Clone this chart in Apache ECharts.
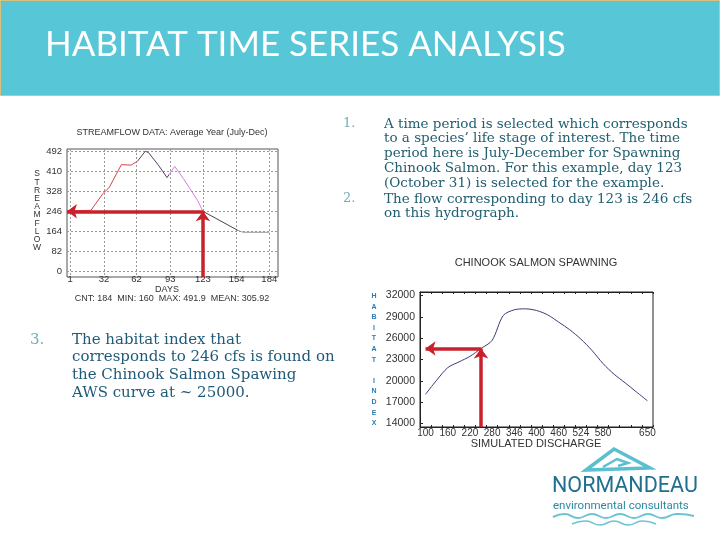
<!DOCTYPE html>
<html><head><meta charset="utf-8">
<script src="https://cdn.jsdelivr.net/npm/echarts@6/dist/echarts.min.js"></script>
<style>html,body{margin:0;padding:0;background:#fff}#c{width:720px;height:540px}</style>
</head><body><div id="c"></div>
<script>
// Streamflow hydrograph (left chart)
const flowDays   = [1, 20, 31, 37, 48, 57, 63, 70, 73, 82, 90, 97, 105, 118, 123, 155, 160, 184];
const flowValues = [248, 250, 318, 345, 437, 435, 452, 492, 486, 435, 384, 430, 380, 291, 246, 168, 160, 160];
const dayTicks   = [1, 32, 62, 93, 123, 154, 184];
const flowTicks  = [0, 82, 164, 246, 328, 410, 492];
const selectedDay = 123;
const selectedFlow = 246;

// Habitat curve (right chart)
const dischargeCategories = ['100','','160','','220','','280','','346','','400','','460','','524','','580','','','','650'];
const habitatValues = [18110, 20080, 21850, 22650, 23440, 24550, 25690, 29190, 29990, 30130, 29900, 29290, 28260, 27180, 25870, 24280, 22420, 20920, 19700, 18440, 17180];
const habitatTicks = [14000, 17000, 20000, 23000, 26000, 29000, 32000];
const selectedIndex = 5;

const chart = echarts.init(document.getElementById('c'), null, {renderer: 'canvas'});
const AX = '#333';
const ARROW = '#c9202b';
const sans = 'Liberation Sans, Arial, sans-serif';
const serif = 'DejaVu Serif, serif';
const xMin0 = -2, xMax0 = 192, yMin0 = -23, yMax0 = 501;
const yMin1 = 13500, yMax1 = 32500;
const selHabitat = habitatValues[selectedIndex];

const arrowLine = {color: ARROW, width: 3.5, type: 'solid'};

function txt(text, x, y, size, color, opts) {
  return Object.assign({type: 'text', silent: true, style: Object.assign({
    text: text, x: x, y: y, font: size + 'px ' + sans, fill: color,
    textAlign: 'left', textVerticalAlign: 'middle'
  }, opts || {})});
}

const graphics = [
  {type: 'rect', shape: {x: 0.5, y: 0.5, width: 719, height: 95}, style: {fill: '#57c6d6', stroke: '#d6c27c', lineWidth: 1}, silent: true},
  txt('HABITAT TIME SERIES ANALYSIS', 45, 45, 35, '#ffffff', {font: '35px Lato, sans-serif'}),
  // paragraph 1 & 2
  txt('1.', 343, 124, 13, '#74aebb', {font: '13px ' + serif}),
  txt('A time period is selected which corresponds\nto a species\u2019 life stage of interest. The time\nperiod here is July-December for Spawning\nChinook Salmon. For this example, day 123\n(October 31) is selected for the example.',
      384, 116.6, 13.5, '#215f70', {font: '13.5px ' + serif, textVerticalAlign: 'top', lineHeight: 14.8}),
  txt('2.', 343, 199, 13, '#74aebb', {font: '13px ' + serif}),
  txt('The flow corresponding to day 123 is 246 cfs\non this hydrograph.',
      384, 191.6, 13.5, '#215f70', {font: '13.5px ' + serif, textVerticalAlign: 'top', lineHeight: 14.8}),
  // paragraph 3
  txt('3.', 30, 340, 15, '#74aebb', {font: '15px ' + serif}),
  txt('The habitat index that\ncorresponds to 246 cfs is found on\nthe Chinook Salmon Spawing\nAWS curve at ~ 25000.',
      72, 331.2, 15, '#1f5a78', {font: '15px ' + serif, textVerticalAlign: 'top', lineHeight: 17.6}),
  // left chart texts
  txt('STREAMFLOW DATA: Average Year (July-Dec)', 172, 133, 9, AX, {textAlign: 'center'}),
  txt('S\nT\nR\nE\nA\nM\nF\nL\nO\nW', 37, 170, 8.5, AX, {textAlign: 'center', textVerticalAlign: 'top', lineHeight: 8.2, font: '8.5px ' + sans}),
  txt('DAYS', 167, 289.5, 9, AX, {textAlign: 'center'}),
  txt('CNT: 184  MIN: 160  MAX: 491.9  MEAN: 305.92', 172, 298.5, 9, AX, {textAlign: 'center'}),
  // right chart texts
  txt('CHINOOK SALMON SPAWNING', 536, 263, 11, AX, {textAlign: 'center'}),
  txt('H\nA\nB\nI\nT\nA\nT\n\nI\nN\nD\nE\nX', 374, 290.7, 7, '#2a7db4', {textAlign: 'center', textVerticalAlign: 'top', lineHeight: 10.6, font: 'bold 7px ' + sans}),
  txt('SIMULATED DISCHARGE', 536, 444, 11, AX, {textAlign: 'center'}),
  // logo
  {type: 'polygon', silent: true, shape: {points: [[586, 470], [614, 449], [650, 468]]}, style: {fill: 'none', stroke: '#5cbfcf', lineWidth: 3.5}},
  {type: 'polyline', silent: true, shape: {points: [[603, 467], [617, 459], [628, 463], [618, 466]]}, style: {fill: 'none', stroke: '#5cbfcf', lineWidth: 2.5}},
  txt('NORMANDEAU', 552, 487, 21.5, '#1f6f8f', {font: '21.5px Roboto, sans-serif'}),
  txt('environmental consultants', 553, 506, 11.5, '#2a89a4', {font: '11.5px Roboto, sans-serif'}),
  {type: 'polyline', silent: true, shape: {smooth: 0.5, points: [[553, 517], [565, 514], [578, 518], [592, 514], [606, 518], [620, 514], [634, 518], [648, 514], [662, 518], [676, 514], [694, 516]]}, style: {fill: 'none', stroke: '#6cc4d3', lineWidth: 2}},
  {type: 'polyline', silent: true, shape: {smooth: 0.5, points: [[572, 524], [586, 521], [600, 525], [614, 521], [628, 525], [642, 521], [656, 524]]}, style: {fill: 'none', stroke: '#6cc4d3', lineWidth: 1.5}}
];

const plain = v => String(v);

const option = {
  animation: false,
  backgroundColor: '#ffffff',
  grid: [
    {left: 67, top: 149, width: 211, height: 128, show: true, borderColor: '#555', borderWidth: 1, backgroundColor: '#fff'},
    {left: 420, top: 292, width: 233, height: 135, show: true, borderColor: '#222', borderWidth: 1, backgroundColor: '#fff'}
  ],
  xAxis: [
    {gridIndex: 0, type: 'value', min: xMin0, max: xMax0,
     axisLine: {show: false},
     axisTick: {show: false, customValues: dayTicks},
     axisLabel: {customValues: dayTicks, fontSize: 9.5, color: AX, margin: -2.5, fontFamily: sans, formatter: plain},
     splitLine: {show: true, lineStyle: {type: [2, 2], color: '#999', width: 1}}},
    {gridIndex: 1, type: 'category', data: dischargeCategories, boundaryGap: true,
     axisLine: {show: true, lineStyle: {color: '#222'}},
     axisTick: {show: true, inside: true, length: 2, interval: 0, lineStyle: {color: '#222'}},
     axisLabel: {interval: 1, fontSize: 10, color: AX, margin: 1, fontFamily: sans},
     splitLine: {show: false}},
    {gridIndex: 1, type: 'category', position: 'top', data: dischargeCategories, boundaryGap: true,
     axisLine: {show: true, lineStyle: {color: '#222'}},
     axisTick: {show: true, inside: true, length: 2, interval: 0, lineStyle: {color: '#222'}},
     axisLabel: {show: false}, splitLine: {show: false}}
  ],
  yAxis: [
    {gridIndex: 0, type: 'value', min: yMin0, max: yMax0,
     axisLine: {show: false},
     axisTick: {show: false, customValues: flowTicks},
     axisLabel: {customValues: flowTicks, fontSize: 9.5, color: AX, margin: 5, fontFamily: sans, formatter: plain},
     splitLine: {show: true, lineStyle: {type: [2, 2], color: '#999', width: 1}}},
    {gridIndex: 1, type: 'value', min: yMin1, max: yMax1,
     axisLine: {show: true, lineStyle: {color: '#222'}},
     axisTick: {show: true, inside: true, length: 3, customValues: habitatTicks, lineStyle: {color: '#222'}},
     axisLabel: {customValues: habitatTicks, fontSize: 10.5, color: AX, margin: 5, fontFamily: sans, formatter: plain},
     splitLine: {show: false}}
  ],
  visualMap: [{
    type: 'piecewise', show: false, seriesIndex: 0, dimension: 0,
    pieces: [
      {lt: 63, color: '#d8404c'},
      {gte: 63, lt: 92, color: '#5a3a62'},
      {gte: 92, lt: 123, color: '#d87ae0'},
      {gte: 123, lt: 155, color: '#444444'},
      {gte: 155, color: '#9a9a9a'}
    ]
  }],
  series: [
    {type: 'line', xAxisIndex: 0, yAxisIndex: 0,
     data: flowDays.map((d, i) => [d, flowValues[i]]),
     showSymbol: false, lineStyle: {width: 1}, z: 3,
     markLine: {silent: true, symbol: ['none', 'arrow'], symbolSize: [11, 10], label: {show: false},
       lineStyle: arrowLine, emphasis: {disabled: true},
       data: [
         [{coord: [selectedDay, selectedFlow]}, {coord: [xMin0, selectedFlow]}],
         [{coord: [selectedDay, yMin0]}, {coord: [selectedDay, selectedFlow]}]
       ]}},
    {type: 'line', xAxisIndex: 1, yAxisIndex: 1, data: habitatValues,
     showSymbol: false, smooth: 0.3, lineStyle: {width: 1, color: '#3b3b78'}, z: 3,
     markLine: {silent: true, symbol: ['none', 'arrow'], symbolSize: [11, 10], label: {show: false},
       lineStyle: arrowLine, emphasis: {disabled: true},
       data: [
         [{coord: [selectedIndex, selHabitat]}, {coord: [0, selHabitat]}],
         [{coord: [selectedIndex, yMin1]}, {coord: [selectedIndex, selHabitat]}]
       ]}}
  ],
  graphic: graphics
};
chart.setOption(option);
</script>
</body></html>
